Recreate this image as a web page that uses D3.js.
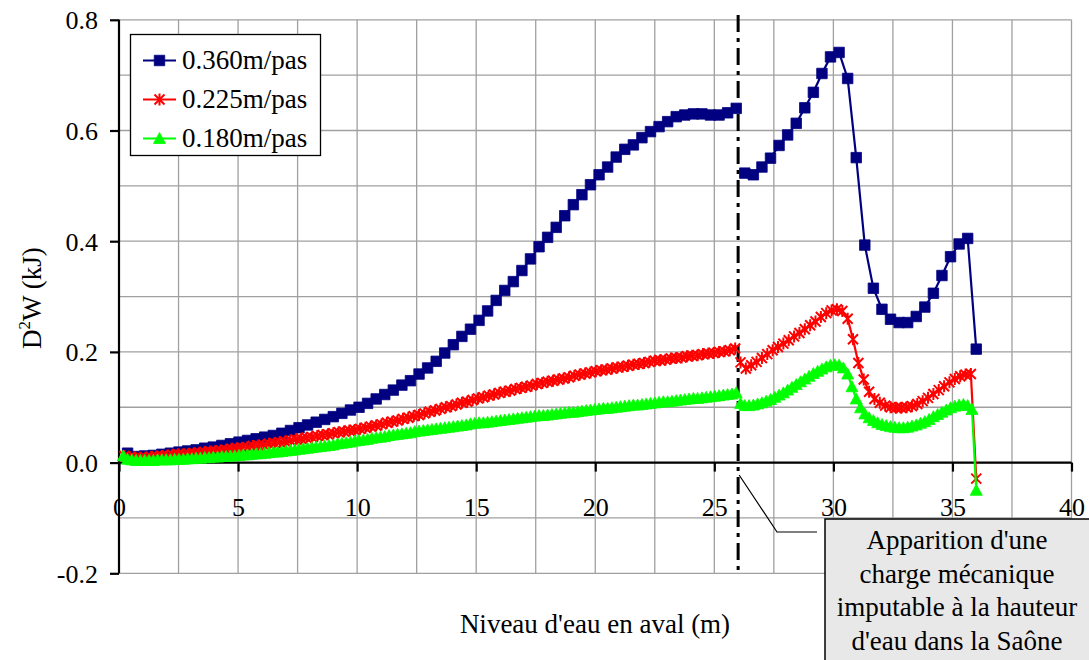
<!DOCTYPE html>
<html>
<head>
<meta charset="utf-8">
<script src="https://cdn.jsdelivr.net/npm/d3@7"></script>
<style>
html,body{margin:0;padding:0;background:#fff;overflow:hidden;}
svg{display:block;font-family:"Liberation Serif","Times New Roman",serif;}
</style>
</head>
<body>
<svg id="chart" width="1089" height="660"></svg>
<script>
// ---- data ----
const seriesNames = ["0.360m/pas", "0.225m/pas", "0.180m/pas"];
const seriesSteps = [0.36, 0.225, 0.18];   // abscissa step of each series (m)
const breakX = 26;                          // discontinuity (annotation)

const blueValues = [
  0.017,0.011,0.012,0.013,0.015,0.017,0.019,0.021,0.023,0.026,
  0.028,0.031,0.034,0.037,0.040,0.043,0.046,0.049,0.053,0.058,
  0.063,0.068,0.073,0.078,0.083,0.089,0.095,0.100,0.107,0.115,
  0.123,0.131,
  0.140,0.148,0.160,0.171,0.183,0.198,0.213,0.228,0.241,0.257,
  0.274,0.293,0.311,0.327,0.347,0.368,0.390,0.407,0.425,0.446,
  0.466,0.484,0.502,0.520,0.534,0.552,0.566,0.574,0.587,0.598,
  0.607,0.616,0.625,0.628,0.630,0.630,0.628,0.628,0.632,0.640,
  0.523,0.520,0.534,0.550,0.573,0.592,0.613,0.641,0.669,0.703,
  0.733,0.741,0.694,0.551,0.393,0.315,0.277,0.259,0.253,0.253,
  0.264,0.281,0.306,0.338,0.372,0.395,0.405,0.205
];
const redValues = [
  0.012,0.010,0.009,0.009,0.009,0.010,0.011,0.012,0.013,0.014,
  0.015,0.015,0.016,0.017,0.018,0.019,0.020,0.021,0.022,0.023,
  0.025,0.026,0.027,0.028,0.030,0.031,0.032,0.034,0.035,0.037,
  0.038,0.040,0.042,0.043,0.045,0.046,0.048,0.050,0.051,0.053,
  0.055,0.056,0.058,0.059,0.061,0.063,0.065,0.067,0.069,0.072,
  0.074,0.076,0.079,0.081,0.084,0.086,0.089,0.092,0.094,0.097,
  0.100,0.102,0.105,0.108,0.110,0.113,0.116,0.118,0.121,0.123,
  0.126,0.128,0.130,0.133,0.135,0.137,0.139,0.142,0.144,0.146,
  0.148,0.150,0.152,0.154,0.157,0.159,0.161,0.163,0.165,0.167,
  0.168,0.170,0.172,0.173,0.175,0.177,0.178,0.180,0.182,0.184,
  0.185,0.186,0.188,0.189,0.190,0.192,0.193,0.194,0.196,0.197,
  0.198,0.200,0.201,0.203,0.206,
  0.181,0.170,0.176,0.182,0.189,
  0.196,0.203,0.209,0.215,0.221,0.228,0.234,0.241,0.248,0.255,
  0.263,0.270,0.275,0.277,0.274,0.260,0.223,0.180,0.150,0.128,
  0.115,0.108,0.103,0.100,0.099,0.099,0.100,0.102,0.106,0.111,
  0.117,0.124,0.131,0.138,0.145,0.151,0.156,0.159,0.160,-0.029
];
const greenValues = [
  0.012,0.006,0.005,0.004,0.004,0.004,0.004,0.004,0.005,0.005,
  0.005,0.005,0.006,0.006,0.006,0.007,0.007,0.008,0.008,0.009,
  0.009,0.010,0.010,0.011,0.011,0.012,0.012,0.013,0.014,0.014,
  0.015,0.016,0.016,0.017,0.018,0.019,0.019,0.020,0.021,0.022,
  0.023,0.024,0.025,0.026,0.027,0.028,0.029,0.030,0.031,0.032,
  0.034,0.035,0.036,0.037,0.039,0.040,0.041,0.042,0.044,0.045,
  0.046,0.047,0.049,0.050,0.051,0.052,0.053,0.054,0.056,0.057,
  0.058,0.059,0.060,0.061,0.062,0.063,0.064,0.065,0.066,0.067,
  0.068,0.070,0.071,0.072,0.072,0.073,0.074,0.075,0.076,0.077,
  0.078,0.079,0.080,0.081,0.082,0.083,0.084,0.085,0.085,0.086,
  0.087,0.088,0.089,0.090,0.091,0.091,0.092,0.093,0.094,0.095,
  0.096,0.097,0.098,0.098,0.099,0.100,0.101,0.102,0.103,0.104,
  0.104,0.105,0.106,0.107,0.108,0.109,0.110,0.110,0.111,0.112,
  0.113,0.114,0.115,0.116,0.116,0.117,0.118,0.119,0.120,0.121,
  0.122,0.123,0.124,0.126,
  0.107,0.103,0.103,0.104,0.106,0.108,
  0.111,0.114,0.118,0.122,0.126,0.131,0.136,0.141,0.146,0.151,
  0.156,0.161,0.165,0.169,0.173,0.176,0.177,0.176,0.171,0.160,
  0.137,0.115,0.099,0.088,0.081,0.076,0.072,0.069,0.067,0.065,
  0.064,0.063,0.063,0.064,0.066,0.068,0.071,0.074,0.078,0.083,
  0.087,0.091,0.095,0.099,0.102,0.104,0.105,0.103,0.096,-0.050
];
const xTickValues = [0,5,10,15,20,25,30,35,40];
const xTickLabels = ["0","5","10","15","20","25","30","35","40"];
const yTickValues = [-0.2,0,0.2,0.4,0.6,0.8];
const yTickLabels = ["-0.2","0.0","0.2","0.4","0.6","0.8"];
const xTitle = "Niveau d'eau en aval (m)";
const annotationLines = ["Apparition d'une","charge mécanique","imputable à la hauteur","d'eau dans la Saône"];

// ---- drawing ----
const svg = d3.select("#chart");
const x = d3.scaleLinear().domain([0,40]).range([119,1071.5]);
const y = d3.scaleLinear().domain([-0.2,0.8]).range([573.3,19.8]);

// grid
const grid = svg.append("g").attr("stroke","#a0a0a0").attr("stroke-width",1.3);
grid.selectAll("line.v").data(d3.range(0,40.01,2.5)).join("line")
  .attr("x1",d=>x(d)).attr("x2",d=>x(d)).attr("y1",y(0.8)).attr("y2",y(-0.2));
grid.selectAll("line.h").data(d3.range(-0.2,0.801,0.1)).join("line")
  .attr("x1",x(0)).attr("x2",x(40)).attr("y1",d=>y(d)).attr("y2",d=>y(d));

// axes
const fontSize = 26;
const yAxis = svg.append("g").attr("transform",`translate(${x(0)},0)`)
  .call(d3.axisLeft(y).tickValues(yTickValues).tickSize(9).tickPadding(12)
        .tickFormat((d,i)=>yTickLabels[i]));
yAxis.select(".domain").attr("stroke","#000").attr("stroke-width",2.2).attr("d",`M0,${y(0.8)}V${y(-0.2)}`);
yAxis.selectAll(".tick line").attr("stroke","#000").attr("stroke-width",2.2);
yAxis.selectAll(".tick text").attr("font-family","Liberation Serif, serif").attr("font-size",fontSize).attr("fill","#000").attr("dy","0.34em");

const xAxis = svg.append("g").attr("transform",`translate(0,${y(0)})`)
  .call(d3.axisBottom(x).tickValues(xTickValues).tickSize(9)
        .tickFormat((d,i)=>xTickLabels[i]));
xAxis.select(".domain").attr("stroke","#000").attr("stroke-width",2.2).attr("d",`M${x(0)},0H${x(40)}`);
xAxis.selectAll(".tick line").attr("stroke","#000").attr("stroke-width",2.2);
xAxis.selectAll(".tick text").attr("font-family","Liberation Serif, serif").attr("font-size",fontSize).attr("fill","#000").attr("y",53).attr("dy",0);

// axis titles
svg.append("text").attr("x",595).attr("y",633).attr("text-anchor","middle")
  .attr("font-size",27).text(xTitle);
const yt = svg.append("text").attr("transform","translate(41,298) rotate(-90)")
  .attr("text-anchor","middle").attr("font-size",27);
yt.append("tspan").text("D");
yt.append("tspan").attr("font-size",17).attr("dy",-11).text("2");
yt.append("tspan").attr("dy",11).text("W (kJ)");

// vertical dash-dot line at break
svg.append("line").attr("x1",x(breakX)).attr("x2",x(breakX)).attr("y1",15).attr("y2",573)
  .attr("stroke","#000").attr("stroke-width",3).attr("stroke-dasharray","17,6,4,6");

// series
const colors = ["#000080","#ff0000","#00ff00"];
const allValues = [blueValues, redValues, greenValues];
const markerPaths = [
  d3.symbol().type(d3.symbolSquare).size(110)(),
  "M-5,-5L5,5M-5,5L5,-5M0,-6L0,6",
  "M0,-6L6,5L-6,5Z"
];
const markerStroke = [0.8, 2, 0.8];
const line = d3.line().x(d=>x(d.x)).y(d=>y(d.v));
allValues.forEach((vals,si)=>{
  const pts = vals.map((v,i)=>({x:+(seriesSteps[si]*(i+1)).toFixed(4), v}));
  const segs = [pts.filter(p=>p.x<breakX), pts.filter(p=>p.x>breakX)];
  const g = svg.append("g");
  segs.forEach(s=>{
    g.append("path").attr("d",line(s)).attr("fill","none").attr("stroke",colors[si]).attr("stroke-width",2.2);
  });
  g.selectAll("path.m").data(pts).join("path").attr("class","m")
    .attr("transform",d=>`translate(${x(d.x)},${y(d.v)})`)
    .attr("d",markerPaths[si])
    .attr("fill",si===1?"none":colors[si])
    .attr("stroke",colors[si]).attr("stroke-width",markerStroke[si]);
});

// legend
const lg = svg.append("g");
lg.append("rect").attr("x",130.5).attr("y",34.5).attr("width",190).attr("height",121)
  .attr("fill","#fff").attr("stroke","#000").attr("stroke-width",1.3);
seriesNames.forEach((n,i)=>{
  const cy = 60.5 + i*39;
  lg.append("line").attr("x1",143).attr("x2",176).attr("y1",cy).attr("y2",cy)
    .attr("stroke",colors[i]).attr("stroke-width",2);
  lg.append("path").attr("transform",`translate(159.5,${cy})`).attr("d",markerPaths[i])
    .attr("fill",i===1?"none":colors[i]).attr("stroke",colors[i]).attr("stroke-width",markerStroke[i]);
  lg.append("text").attr("x",182).attr("y",cy+8.5).attr("font-size",27).text(n);
});

// annotation
svg.append("path").attr("d",`M${x(breakX)+1},475L777,532H817`).attr("fill","none")
  .attr("stroke","#000").attr("stroke-width",1.2);
svg.append("rect").attr("x",825).attr("y",519).attr("width",300).attr("height",200)
  .attr("fill","#e8e8e8").attr("stroke","#000").attr("stroke-width",1.5);
annotationLines.forEach((t,i)=>{
  svg.append("text").attr("x",957).attr("y",549+i*33.5).attr("text-anchor","middle")
    .attr("font-size",27).text(t);
});
</script>
</body>
</html>
